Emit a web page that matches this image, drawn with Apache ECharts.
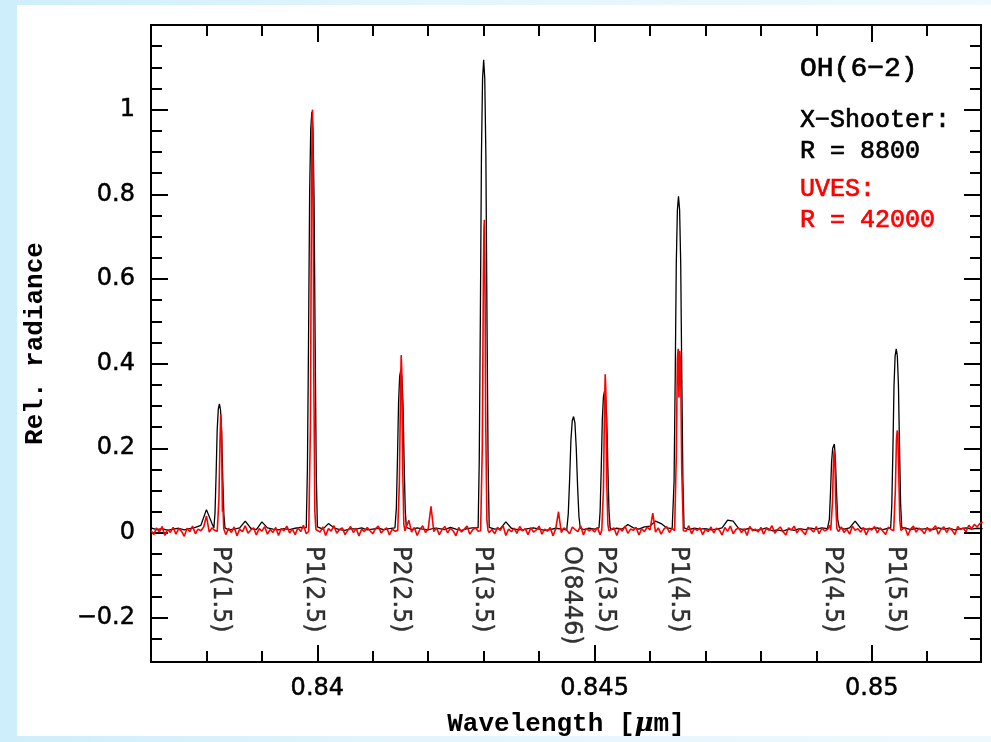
<!DOCTYPE html>
<html>
<head>
<meta charset="utf-8">
<title>OH(6-2) X-Shooter / UVES</title>
<script src="https://cdn.jsdelivr.net/npm/echarts@6/dist/echarts.min.js"></script>
<style>
  html, body { margin: 0; padding: 0; width: 991px; height: 742px; overflow: hidden;
    background: linear-gradient(90deg, #cdeefa 0%, #e2f5fc 40%, #eef9fd 100%); }
  #panel { position: absolute; left: 17px; top: 5px; width: 974px; height: 731px; background: #fff; }
  #main { position: absolute; left: 0; top: 0; width: 991px; height: 742px; }
</style>
</head>
<body>
<div id="panel"></div>
<div id="main"></div>
<script>
// ticks (wavelength in micron, relative radiance)
var xMajorTicks = [0.84, 0.845, 0.85];
var xMinorTicks = [0.838, 0.839, 0.841, 0.842, 0.843, 0.844, 0.846, 0.847, 0.848, 0.849, 0.851];
var yMajorTicks = [-0.2, 0, 0.2, 0.4, 0.6, 0.8, 1];
var yMinorTicks = [-0.25, -0.15, -0.1, -0.05, 0.05, 0.1, 0.15, 0.25, 0.3, 0.35, 0.45, 0.5, 0.55,
  0.65, 0.7, 0.75, 0.85, 0.9, 0.95, 1.05, 1.1, 1.15];

// line identifications
var lineNames = ['P2(1.5)', 'P1(2.5)', 'P2(2.5)', 'P1(3.5)', 'O(8446)', 'P2(3.5)', 'P1(4.5)', 'P2(4.5)', 'P1(5.5)'];
var lineWave = [0.838243, 0.839919, 0.841487, 0.842982, 0.844586, 0.845198, 0.846514, 0.849289, 0.850423];

// X-Shooter (black): continuum read every 0.0001 micron from 0.837
var xsStart = 0.837, xsStep = 0.0001;
var xsBase = [
  0.012, 0.008, 0.010, 0.006, 0.009, 0.011, 0.007, 0.010, 0.013, 0.018,
  0.055, 0.022, 0.010, 0.008, 0.007, 0.009, 0.012, 0.028, 0.011, 0.008,
  0.026, 0.012, 0.009, 0.007, 0.010, 0.008, 0.011, 0.013, 0.012, 0.010,
  0.011, 0.009, 0.022, 0.012, 0.008, 0.006, 0.010, 0.009, 0.012, 0.007,
  0.009, 0.011, 0.008, 0.010, 0.012, 0.011, 0.010, 0.008, 0.012, 0.009,
  0.007, 0.011, 0.010, 0.008, 0.013, 0.009, 0.006, 0.010, 0.012, 0.011,
  0.010, 0.012, 0.009, 0.010, 0.026, 0.011, 0.008, 0.007, 0.010, 0.012,
  0.009, 0.006, 0.008, 0.011, 0.009, 0.007, 0.012, 0.010, 0.008, 0.011,
  0.009, 0.012, 0.010, 0.008, 0.011, 0.009, 0.020, 0.012, 0.009, 0.014,
  0.016, 0.028, 0.022, 0.012, 0.010, 0.011, 0.010, 0.008, 0.011, 0.009,
  0.010, 0.007, 0.009, 0.012, 0.030, 0.028, 0.010, 0.008, 0.011, 0.006,
  0.008, 0.012, 0.005, 0.007, 0.004, 0.009, 0.006, 0.010, 0.008, 0.011,
  0.009, 0.012, 0.010, 0.008, 0.011, 0.009, 0.012, 0.028, 0.011, 0.009,
  0.010, 0.012, 0.008, 0.011, 0.009, 0.010, 0.012, 0.008, 0.011, 0.009,
  0.010, 0.008, 0.012, 0.009, 0.011, 0.007, 0.010, 0.012, 0.009, 0.011,
  0.010
];
// X-Shooter emission lines [wavelength, radiance]
var xsPeaks = [
  [[0.838134, 0.012], [0.838154, 0.046], [0.838174, 0.137], [0.838194, 0.244], [0.838214, 0.293], [0.838234, 0.305],
   [0.838254, 0.29], [0.838274, 0.24], [0.838294, 0.13], [0.838314, 0.044], [0.838334, 0.012]],
  [[0.839801, 0.012], [0.839821, 0.15], [0.839841, 0.45], [0.839861, 0.8], [0.839881, 0.955], [0.839901, 0.995],
   [0.839921, 0.955], [0.839941, 0.79], [0.839961, 0.44], [0.839981, 0.14], [0.840001, 0.014]],
  [[0.841405, 0.012], [0.841425, 0.058], [0.841445, 0.173], [0.841465, 0.308], [0.841485, 0.37], [0.841505, 0.385],
   [0.841525, 0.37], [0.841545, 0.305], [0.841565, 0.17], [0.841585, 0.056], [0.841605, 0.013]],
  [[0.8429, 0.012], [0.84292, 0.168], [0.84294, 0.503], [0.84296, 0.894], [0.84298, 1.073], [0.843, 1.118],
   [0.84302, 1.073], [0.84304, 0.89], [0.84306, 0.5], [0.84308, 0.165], [0.8431, 0.013]],
  [[0.844502, 0.012], [0.844526, 0.045], [0.84455, 0.125], [0.844574, 0.22], [0.844598, 0.265], [0.844622, 0.275],
   [0.844646, 0.26], [0.84467, 0.2], [0.844694, 0.11], [0.844718, 0.04], [0.844742, 0.012]],
  [[0.84508, 0.012], [0.8451, 0.05], [0.84512, 0.15], [0.84514, 0.268], [0.84516, 0.322], [0.84518, 0.335],
   [0.8452, 0.322], [0.84522, 0.27], [0.84524, 0.155], [0.84526, 0.052], [0.84528, 0.013]],
  [[0.846414, 0.012], [0.846434, 0.12], [0.846454, 0.358], [0.846474, 0.636], [0.846494, 0.763], [0.846514, 0.795],
   [0.846534, 0.763], [0.846554, 0.636], [0.846574, 0.358], [0.846594, 0.12], [0.846614, 0.012]],
  [[0.849215, 0.012], [0.849235, 0.032], [0.849255, 0.094], [0.849275, 0.168], [0.849295, 0.2], [0.849305, 0.196],
   [0.849325, 0.21], [0.849345, 0.17], [0.849365, 0.095], [0.849385, 0.032], [0.849415, 0.012]],
  [[0.850341, 0.012], [0.850361, 0.065], [0.850381, 0.196], [0.850401, 0.348], [0.850421, 0.418], [0.850441, 0.435],
   [0.850461, 0.418], [0.850481, 0.348], [0.850501, 0.196], [0.850521, 0.065], [0.850541, 0.012]]
];

// UVES (red): continuum read every 0.00005 micron from 0.837
var uvesStart = 0.837, uvesStep = 0.00005;
var uvesBase = [
  0.006, -0.004, 0.012, 0.002, 0.015, -0.006, 0.008, 0.001, 0.013, -0.003, 0.010, 0.004, -0.008, 0.011, 0.003, 0.016, -0.002, 0.009, 0.005, 0.014,
  0.040, 0.002, 0.012, 0.006, 0.010, 0.008, 0.020, -0.004, 0.011, 0.001, 0.014, -0.007, 0.009, 0.003, 0.017, -0.001, 0.007, 0.012, -0.005, 0.010,
  0.004, 0.015, -0.003, 0.008, 0.001, 0.013, -0.006, 0.010, 0.005, 0.016, 0.000, 0.009, -0.004, 0.012, 0.003, 0.018, -0.002, 0.007, 0.011, -0.005,
  0.009, 0.002, 0.014, -0.006, 0.010, 0.004, 0.017, -0.001, 0.008, 0.012, -0.004, 0.006, 0.015, 0.001, 0.011, -0.007, 0.009, 0.003, 0.013, 0.005,
  -0.002, 0.010, 0.016, 0.000, 0.007, 0.012, -0.005, 0.009, 0.004, 0.014, -0.003, 0.011, 0.006, 0.030, 0.002, 0.013, -0.006, 0.008, 0.017, 0.001,
  0.010, 0.063, 0.003, 0.012, -0.004, 0.008, 0.015, 0.000, 0.011, 0.005, -0.007, 0.013, 0.002, 0.009, 0.016, -0.003, 0.007, 0.012, 0.004, -0.005,
  0.010, 0.014, 0.001, 0.008, -0.002, 0.013, 0.006, 0.017, -0.006, 0.009, 0.003, 0.011, -0.001, 0.015, 0.005, 0.010, -0.004, 0.012, 0.002, 0.007,
  0.016, -0.003, 0.009, 0.004, 0.013, -0.007, 0.010, 0.050, 0.001, 0.012, 0.006, -0.002, 0.014, 0.008, 0.003, 0.017, -0.005, 0.011, 0.005, 0.009,
  0.002, 0.013, -0.004, 0.010, 0.015, 0.000, 0.008, 0.012, -0.006, 0.011, 0.004, 0.016, -0.001, 0.009, 0.006, 0.013, -0.005, 0.010, 0.003, 0.014,
  0.007, 0.047, 0.002, 0.012, -0.003, 0.009, 0.015, 0.001, 0.011, 0.005, -0.006, 0.013, 0.008, 0.004, 0.017, -0.002, 0.010, 0.006, 0.012, -0.004,
  0.009, 0.003, 0.014, 0.000, 0.011, 0.007, -0.005, 0.013, 0.004, 0.016, -0.002, 0.008, 0.012, 0.001, 0.010, -0.006, 0.015, 0.005, 0.009, 0.002,
  0.013, -0.003, 0.011, 0.006, 0.017, -0.001, 0.008, 0.014, 0.003, -0.005, 0.012, 0.007, 0.016, 0.000, 0.010, 0.004, -0.004, 0.013, 0.009, 0.002,
  0.015, -0.002, 0.011, 0.005, 0.008, 0.018, -0.006, 0.012, 0.003, 0.014, 0.001, 0.009, -0.003, 0.016, 0.006, 0.010, 0.002, 0.013, -0.005, 0.011,
  0.007, 0.015, 0.000, 0.012, 0.004, -0.004, 0.014, 0.008, 0.017, -0.001, 0.010, 0.005, 0.013, -0.006, 0.009, 0.016, 0.002, 0.011, 0.006, -0.002,
  0.013, 0.004, 0.010, 0.017, -0.003, 0.009, 0.014, 0.001, 0.012, 0.006, -0.004, 0.015, 0.008, 0.011, 0.003, 0.018, 0.010, 0.020, 0.014, 0.022,
  0.025
];
// UVES emission lines [wavelength, radiance]
var uvesPeaks = [
  [[0.838195, 0.004], [0.838225, 0.08], [0.838245, 0.22], [0.838258, 0.28], [0.838271, 0.24], [0.838288, 0.05], [0.8383, 0.055], [0.838312, 0.01], [0.838335, 0.006]],
  [[0.839845, 0.004], [0.839875, 0.25], [0.839895, 0.8], [0.839905, 0.97], [0.839913, 1.0], [0.839922, 0.88], [0.839935, 0.4], [0.839955, 0.05], [0.839975, 0.008]],
  [[0.84145, 0.006], [0.84148, 0.12], [0.8415, 0.33], [0.841512, 0.42], [0.841522, 0.39], [0.84154, 0.15], [0.84156, 0.02], [0.84158, 0.005]],
  [[0.842945, 0.005], [0.842975, 0.2], [0.842995, 0.6], [0.843005, 0.72], [0.843013, 0.74], [0.843022, 0.64], [0.843038, 0.25], [0.843058, 0.03], [0.843078, 0.006]],
  [[0.84513, 0.006], [0.84516, 0.1], [0.84518, 0.3], [0.845192, 0.375], [0.845203, 0.34], [0.84522, 0.12], [0.84524, 0.02], [0.84526, 0.005]],
  [[0.846444, 0.005], [0.846474, 0.18], [0.846494, 0.41], [0.846508, 0.435], [0.846522, 0.32], [0.846538, 0.43], [0.846552, 0.4], [0.846572, 0.15], [0.846602, 0.005]],
  [[0.84926, 0.006], [0.84929, 0.07], [0.84931, 0.17], [0.849322, 0.195], [0.849334, 0.18], [0.84935, 0.07], [0.84937, 0.01], [0.84939, 0.006]],
  [[0.850395, 0.005], [0.850425, 0.1], [0.850445, 0.22], [0.850458, 0.242], [0.85047, 0.235], [0.850485, 0.15], [0.850505, 0.03], [0.850525, 0.006]]
];

// continuum points that fall under a line are replaced by the line profile
function buildSpectrum(start, step, base, peaks) {
  var pts = [];
  base.forEach(function (v, i) {
    var w = +(start + i * step).toFixed(6);
    var under = peaks.some(function (p) { return w >= p[0][0] && w <= p[p.length - 1][0]; });
    if (!under) pts.push([w, v]);
  });
  peaks.forEach(function (p) { pts = pts.concat(p); });
  pts.sort(function (a, b) { return a[0] - b[0]; });
  return pts;
}

var xsData = buildSpectrum(xsStart, xsStep, xsBase, xsPeaks);
var uvesData = buildSpectrum(uvesStart, uvesStep, uvesBase, uvesPeaks);
var labelData = lineNames.map(function (n, i) { return { name: n, value: [lineWave[i], -0.031] }; });

var tickFont = 'DejaVu Sans';
var monoFont = 'Liberation Mono';
var XMIN = 0.837, XMAX = 0.85197, YMIN = -0.305, YMAX = 1.2;

function xAx(pos, ticks, len, withLabels) {
  return {
    type: 'value', position: pos, min: XMIN, max: XMAX,
    axisLine: { show: true, onZero: false, lineStyle: { color: '#000', width: 2 } },
    axisTick: { show: true, inside: true, length: len, customValues: ticks, lineStyle: { color: '#000', width: 2 } },
    axisLabel: {
      show: withLabels, customValues: ticks, margin: 15, color: '#000', fontFamily: tickFont, fontSize: 24,
      textBorderColor: '#000', textBorderWidth: 0.5
    },
    splitLine: { show: false }
  };
}
function yAx(pos, ticks, len, withLabels) {
  return {
    type: 'value', position: pos, min: YMIN, max: YMAX,
    axisLine: { show: true, onZero: false, lineStyle: { color: '#000', width: 2 } },
    axisTick: { show: true, inside: true, length: len, customValues: ticks, lineStyle: { color: '#000', width: 2 } },
    axisLabel: {
      show: withLabels, customValues: ticks, margin: 16, color: '#000', fontFamily: tickFont, fontSize: 24,
      textBorderColor: '#000', textBorderWidth: 0.5,
      formatter: function (v) { return String(v).replace('-', '\u2212'); }
    },
    splitLine: { show: false }
  };
}

var xBottom = xAx('bottom', xMajorTicks, 17, true);
xBottom.name = 'Wavelength [{i|\u03bc}m]';
xBottom.nameLocation = 'middle';
xBottom.nameGap = 49;
xBottom.nameTextStyle = {
  fontFamily: monoFont, fontWeight: 'bold', fontSize: 26, color: '#000',
  rich: { i: { fontFamily: 'DejaVu Serif', fontStyle: 'italic', fontSize: 26, color: '#000' } }
};
var yLeft = yAx('left', yMajorTicks, 17, true);
yLeft.name = 'Rel. radiance';
yLeft.nameLocation = 'middle';
yLeft.nameGap = 103;
yLeft.nameTextStyle = { fontFamily: monoFont, fontWeight: 'bold', fontSize: 26, color: '#000' };

function note(text, y, size, color) {
  return {
    type: 'text', x: 800, y: y,
    style: {
      text: text, fill: color, stroke: color, lineWidth: 0.7,
      font: size + 'px "Liberation Mono"',
      align: 'left', verticalAlign: 'middle', textAlign: 'left', textVerticalAlign: 'middle'
    }
  };
}

var chart = echarts.init(document.getElementById('main'), null, { renderer: 'canvas' });
var option = {
  animation: false,
  backgroundColor: 'transparent',
  grid: { left: 151, top: 25, width: 830, height: 640, containLabel: false },
  xAxis: [
    xBottom,
    xAx('bottom', xMinorTicks, 11, false),
    xAx('top', xMajorTicks, 17, false),
    xAx('top', xMinorTicks, 11, false)
  ],
  yAxis: [
    yLeft,
    yAx('left', yMinorTicks, 11, false),
    yAx('right', yMajorTicks, 17, false),
    yAx('right', yMinorTicks, 11, false)
  ],
  series: [
    {
      name: 'X-Shooter', type: 'line', data: xsData, xAxisIndex: 0, yAxisIndex: 0,
      symbol: 'none', clip: true, lineStyle: { color: '#000', width: 1.3 }
    },
    {
      name: 'UVES', type: 'line', data: uvesData, xAxisIndex: 0, yAxisIndex: 0,
      symbol: 'none', clip: true, lineStyle: { color: '#ff0000', width: 1.6 }
    },
    {
      name: 'lines', type: 'scatter', data: labelData, xAxisIndex: 0, yAxisIndex: 0,
      symbolSize: 0, silent: true, z: 5,
      label: {
        show: true, position: 'inside', formatter: '{b}', rotate: -90,
        align: 'left', verticalAlign: 'middle',
        color: '#000', fontFamily: tickFont, fontSize: 24,
        textBorderColor: '#000', textBorderWidth: 0.4
      }
    }
  ],
  graphic: [
    note('OH(6\u22122)', 69, 28, '#000'),
    note('X\u2212Shooter:', 120, 25, '#000'),
    note('R = 8800', 151, 25, '#000'),
    note('UVES:', 189, 25, '#ff0000'),
    note('R = 42000', 220, 25, '#ff0000')
  ]
};
chart.setOption(option);
</script>
</body>
</html>
